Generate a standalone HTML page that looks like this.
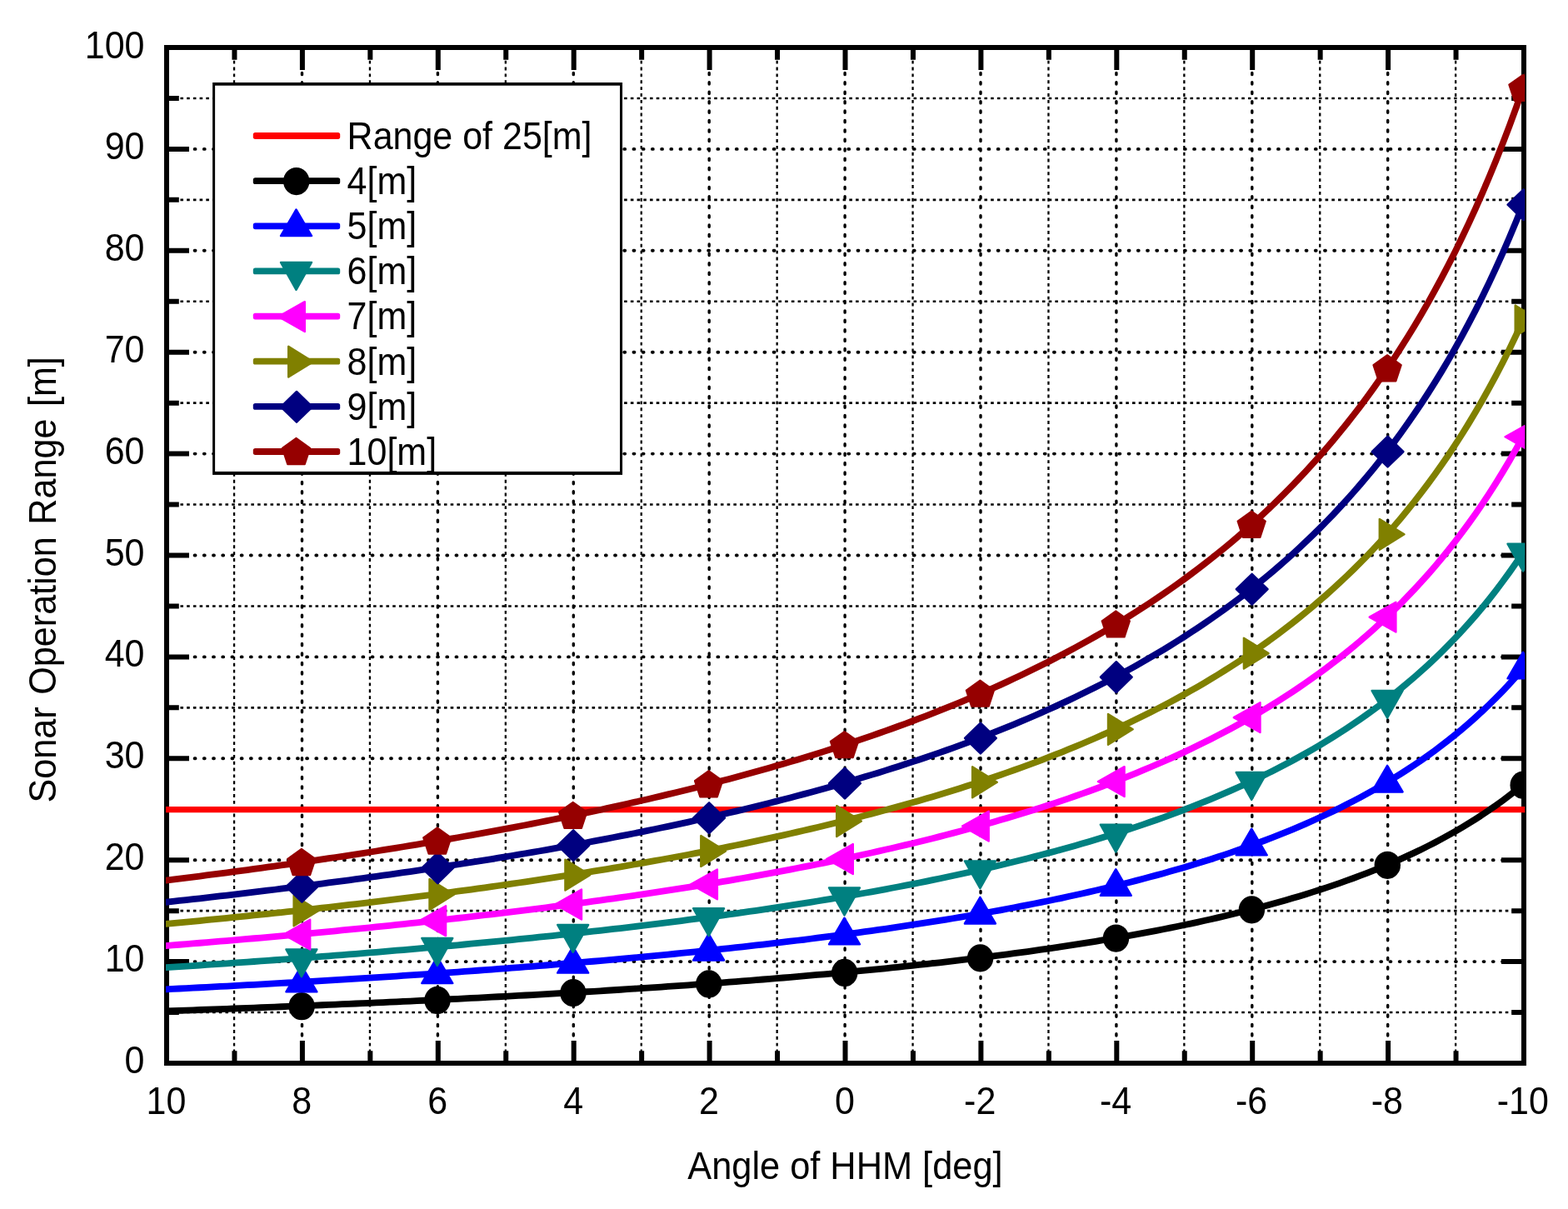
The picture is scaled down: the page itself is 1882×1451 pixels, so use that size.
<!DOCTYPE html>
<html lang="en"><head><meta charset="utf-8"><title>Sonar Operation Range vs Angle of HHM</title>
<style>html,body{margin:0;padding:0;background:#fff;}body{width:1882px;height:1451px;overflow:hidden;}svg{display:block;}text{font-family:"Liberation Sans",Arial,Helvetica,sans-serif;font-size:43px;fill:#000;}</style>
</head><body>
<svg width="1882" height="1451" viewBox="0 0 1882 1451">
<rect x="0" y="0" width="1882" height="1451" fill="#ffffff"/>
<defs><clipPath id="plotclip"><rect x="199" y="57" width="1631.2" height="1219"/></clipPath></defs>
<g id="grid" stroke="#000" fill="none">
<line x1="281.05" y1="57" x2="281.05" y2="1276" stroke-width="2.3" stroke-dasharray="3.9 3.96"/>
<line x1="362.5" y1="57" x2="362.5" y2="1276" stroke-width="3.4" stroke-linecap="round" stroke-dasharray="2.3 9.12" stroke-dashoffset="-7.5"/>
<line x1="443.95" y1="57" x2="443.95" y2="1276" stroke-width="2.3" stroke-dasharray="3.9 3.96"/>
<line x1="525.4" y1="57" x2="525.4" y2="1276" stroke-width="3.4" stroke-linecap="round" stroke-dasharray="2.3 9.12" stroke-dashoffset="-7.5"/>
<line x1="606.85" y1="57" x2="606.85" y2="1276" stroke-width="2.3" stroke-dasharray="3.9 3.96"/>
<line x1="688.3" y1="57" x2="688.3" y2="1276" stroke-width="3.4" stroke-linecap="round" stroke-dasharray="2.3 9.12" stroke-dashoffset="-7.5"/>
<line x1="769.75" y1="57" x2="769.75" y2="1276" stroke-width="2.3" stroke-dasharray="3.9 3.96"/>
<line x1="851.2" y1="57" x2="851.2" y2="1276" stroke-width="3.4" stroke-linecap="round" stroke-dasharray="2.3 9.12" stroke-dashoffset="-7.5"/>
<line x1="932.65" y1="57" x2="932.65" y2="1276" stroke-width="2.3" stroke-dasharray="3.9 3.96"/>
<line x1="1014.1" y1="57" x2="1014.1" y2="1276" stroke-width="3.4" stroke-linecap="round" stroke-dasharray="2.3 9.12" stroke-dashoffset="-7.5"/>
<line x1="1095.55" y1="57" x2="1095.55" y2="1276" stroke-width="2.3" stroke-dasharray="3.9 3.96"/>
<line x1="1177" y1="57" x2="1177" y2="1276" stroke-width="3.4" stroke-linecap="round" stroke-dasharray="2.3 9.12" stroke-dashoffset="-7.5"/>
<line x1="1258.45" y1="57" x2="1258.45" y2="1276" stroke-width="2.3" stroke-dasharray="3.9 3.96"/>
<line x1="1339.9" y1="57" x2="1339.9" y2="1276" stroke-width="3.4" stroke-linecap="round" stroke-dasharray="2.3 9.12" stroke-dashoffset="-7.5"/>
<line x1="1421.35" y1="57" x2="1421.35" y2="1276" stroke-width="2.3" stroke-dasharray="3.9 3.96"/>
<line x1="1502.8" y1="57" x2="1502.8" y2="1276" stroke-width="3.4" stroke-linecap="round" stroke-dasharray="2.3 9.12" stroke-dashoffset="-7.5"/>
<line x1="1584.25" y1="57" x2="1584.25" y2="1276" stroke-width="2.3" stroke-dasharray="3.9 3.96"/>
<line x1="1665.7" y1="57" x2="1665.7" y2="1276" stroke-width="3.4" stroke-linecap="round" stroke-dasharray="2.3 9.12" stroke-dashoffset="-7.5"/>
<line x1="1747.15" y1="57" x2="1747.15" y2="1276" stroke-width="2.3" stroke-dasharray="3.9 3.96"/>
<line x1="200" y1="1215.05" x2="1829" y2="1215.05" stroke-width="2.6" stroke-dasharray="3.6 4.12" stroke-dashoffset="-1"/>
<line x1="208" y1="1154.1" x2="1829" y2="1154.1" stroke-width="3.9" stroke-linecap="round" stroke-dasharray="0.9 10.31" stroke-dashoffset="-3.2"/>
<line x1="200" y1="1093.15" x2="1829" y2="1093.15" stroke-width="2.6" stroke-dasharray="3.6 4.12" stroke-dashoffset="-1"/>
<line x1="208" y1="1032.2" x2="1829" y2="1032.2" stroke-width="3.9" stroke-linecap="round" stroke-dasharray="0.9 10.31" stroke-dashoffset="-3.2"/>
<line x1="200" y1="971.25" x2="1829" y2="971.25" stroke-width="2.6" stroke-dasharray="3.6 4.12" stroke-dashoffset="-1"/>
<line x1="208" y1="910.3" x2="1829" y2="910.3" stroke-width="3.9" stroke-linecap="round" stroke-dasharray="0.9 10.31" stroke-dashoffset="-3.2"/>
<line x1="200" y1="849.35" x2="1829" y2="849.35" stroke-width="2.6" stroke-dasharray="3.6 4.12" stroke-dashoffset="-1"/>
<line x1="208" y1="788.4" x2="1829" y2="788.4" stroke-width="3.9" stroke-linecap="round" stroke-dasharray="0.9 10.31" stroke-dashoffset="-3.2"/>
<line x1="200" y1="727.45" x2="1829" y2="727.45" stroke-width="2.6" stroke-dasharray="3.6 4.12" stroke-dashoffset="-1"/>
<line x1="208" y1="666.5" x2="1829" y2="666.5" stroke-width="3.9" stroke-linecap="round" stroke-dasharray="0.9 10.31" stroke-dashoffset="-3.2"/>
<line x1="200" y1="605.55" x2="1829" y2="605.55" stroke-width="2.6" stroke-dasharray="3.6 4.12" stroke-dashoffset="-1"/>
<line x1="208" y1="544.6" x2="1829" y2="544.6" stroke-width="3.9" stroke-linecap="round" stroke-dasharray="0.9 10.31" stroke-dashoffset="-3.2"/>
<line x1="200" y1="483.65" x2="1829" y2="483.65" stroke-width="2.6" stroke-dasharray="3.6 4.12" stroke-dashoffset="-1"/>
<line x1="208" y1="422.7" x2="1829" y2="422.7" stroke-width="3.9" stroke-linecap="round" stroke-dasharray="0.9 10.31" stroke-dashoffset="-3.2"/>
<line x1="200" y1="361.75" x2="1829" y2="361.75" stroke-width="2.6" stroke-dasharray="3.6 4.12" stroke-dashoffset="-1"/>
<line x1="208" y1="300.8" x2="1829" y2="300.8" stroke-width="3.9" stroke-linecap="round" stroke-dasharray="0.9 10.31" stroke-dashoffset="-3.2"/>
<line x1="200" y1="239.85" x2="1829" y2="239.85" stroke-width="2.6" stroke-dasharray="3.6 4.12" stroke-dashoffset="-1"/>
<line x1="208" y1="178.9" x2="1829" y2="178.9" stroke-width="3.9" stroke-linecap="round" stroke-dasharray="0.9 10.31" stroke-dashoffset="-3.2"/>
<line x1="200" y1="117.95" x2="1829" y2="117.95" stroke-width="2.6" stroke-dasharray="3.6 4.12" stroke-dashoffset="-1"/>
</g>
<g id="axes" stroke="#000" fill="none">
<rect x="200" y="57" width="1629" height="1219" stroke-width="6"/>
<path d="M281.45 1276v-14.8 M281.45 57v14.8" stroke-width="6"/>
<path d="M362.9 1276v-27 M362.9 57v27" stroke-width="6"/>
<path d="M444.35 1276v-14.8 M444.35 57v14.8" stroke-width="6"/>
<path d="M525.8 1276v-27 M525.8 57v27" stroke-width="6"/>
<path d="M607.25 1276v-14.8 M607.25 57v14.8" stroke-width="6"/>
<path d="M688.7 1276v-27 M688.7 57v27" stroke-width="6"/>
<path d="M770.15 1276v-14.8 M770.15 57v14.8" stroke-width="6"/>
<path d="M851.6 1276v-27 M851.6 57v27" stroke-width="6"/>
<path d="M933.05 1276v-14.8 M933.05 57v14.8" stroke-width="6"/>
<path d="M1014.5 1276v-27 M1014.5 57v27" stroke-width="6"/>
<path d="M1095.95 1276v-14.8 M1095.95 57v14.8" stroke-width="6"/>
<path d="M1177.4 1276v-27 M1177.4 57v27" stroke-width="6"/>
<path d="M1258.85 1276v-14.8 M1258.85 57v14.8" stroke-width="6"/>
<path d="M1340.3 1276v-27 M1340.3 57v27" stroke-width="6"/>
<path d="M1421.75 1276v-14.8 M1421.75 57v14.8" stroke-width="6"/>
<path d="M1503.2 1276v-27 M1503.2 57v27" stroke-width="6"/>
<path d="M1584.65 1276v-14.8 M1584.65 57v14.8" stroke-width="6"/>
<path d="M1666.1 1276v-27 M1666.1 57v27" stroke-width="6"/>
<path d="M1747.55 1276v-14.8 M1747.55 57v14.8" stroke-width="6"/>
<path d="M200 1215.05h14.8 M1829 1215.05h-14.8" stroke-width="6"/>
<path d="M200 1154.1h27 M1829 1154.1h-27" stroke-width="6"/>
<path d="M200 1093.15h14.8 M1829 1093.15h-14.8" stroke-width="6"/>
<path d="M200 1032.2h27 M1829 1032.2h-27" stroke-width="6"/>
<path d="M200 971.25h14.8 M1829 971.25h-14.8" stroke-width="6"/>
<path d="M200 910.3h27 M1829 910.3h-27" stroke-width="6"/>
<path d="M200 849.35h14.8 M1829 849.35h-14.8" stroke-width="6"/>
<path d="M200 788.4h27 M1829 788.4h-27" stroke-width="6"/>
<path d="M200 727.45h14.8 M1829 727.45h-14.8" stroke-width="6"/>
<path d="M200 666.5h27 M1829 666.5h-27" stroke-width="6"/>
<path d="M200 605.55h14.8 M1829 605.55h-14.8" stroke-width="6"/>
<path d="M200 544.6h27 M1829 544.6h-27" stroke-width="6"/>
<path d="M200 483.65h14.8 M1829 483.65h-14.8" stroke-width="6"/>
<path d="M200 422.7h27 M1829 422.7h-27" stroke-width="6"/>
<path d="M200 361.75h14.8 M1829 361.75h-14.8" stroke-width="6"/>
<path d="M200 300.8h27 M1829 300.8h-27" stroke-width="6"/>
<path d="M200 239.85h14.8 M1829 239.85h-14.8" stroke-width="6"/>
<path d="M200 178.9h27 M1829 178.9h-27" stroke-width="6"/>
<path d="M200 117.95h14.8 M1829 117.95h-14.8" stroke-width="6"/>
</g>
<g id="data" clip-path="url(#plotclip)"><g transform="translate(-1 0.2)">
<line x1="198" y1="971.45" x2="1833" y2="971.45" stroke="#ff0000" stroke-width="7.4"/>
<polyline points="191.86,1213.55 200,1213.26 208.14,1212.97 216.29,1212.68 224.44,1212.39 232.58,1212.1 240.72,1211.8 248.87,1211.51 257.02,1211.21 265.16,1210.9 273.31,1210.6 281.45,1210.29 289.59,1209.98 297.74,1209.67 305.89,1209.35 314.03,1209.04 322.18,1208.72 330.32,1208.39 338.46,1208.07 346.61,1207.74 354.75,1207.41 362.9,1207.08 371.04,1206.74 379.19,1206.4 387.34,1206.06 395.48,1205.72 403.62,1205.37 411.77,1205.02 419.92,1204.67 428.06,1204.31 436.21,1203.95 444.35,1203.59 452.5,1203.22 460.64,1202.85 468.79,1202.48 476.93,1202.11 485.07,1201.73 493.22,1201.35 501.37,1200.96 509.51,1200.57 517.65,1200.18 525.8,1199.79 533.95,1199.39 542.09,1198.98 550.24,1198.58 558.38,1198.17 566.52,1197.75 574.67,1197.33 582.82,1196.91 590.96,1196.48 599.11,1196.05 607.25,1195.62 615.39,1195.18 623.54,1194.74 631.68,1194.29 639.83,1193.84 647.98,1193.38 656.12,1192.92 664.27,1192.46 672.41,1191.99 680.56,1191.51 688.7,1191.03 696.85,1190.55 704.99,1190.06 713.13,1189.57 721.28,1189.07 729.43,1188.56 737.57,1188.05 745.72,1187.54 753.86,1187.02 762,1186.49 770.15,1185.96 778.29,1185.42 786.44,1184.88 794.58,1184.33 802.73,1183.77 810.88,1183.21 819.02,1182.64 827.17,1182.07 835.31,1181.49 843.46,1180.9 851.6,1180.31 859.75,1179.71 867.89,1179.1 876.04,1178.48 884.18,1177.86 892.33,1177.23 900.47,1176.6 908.62,1175.95 916.76,1175.3 924.9,1174.64 933.05,1173.97 941.19,1173.3 949.34,1172.61 957.49,1171.92 965.63,1171.22 973.77,1170.51 981.92,1169.79 990.06,1169.06 998.21,1168.32 1006.36,1167.57 1014.5,1166.82 1022.65,1166.05 1030.79,1165.27 1038.93,1164.48 1047.08,1163.68 1055.22,1162.88 1063.37,1162.06 1071.51,1161.22 1079.66,1160.38 1087.81,1159.53 1095.95,1158.66 1104.1,1157.78 1112.24,1156.89 1120.38,1155.99 1128.53,1155.07 1136.67,1154.14 1144.82,1153.2 1152.96,1152.24 1161.11,1151.27 1169.26,1150.28 1177.4,1149.28 1185.55,1148.26 1193.69,1147.23 1201.83,1146.18 1209.98,1145.12 1218.12,1144.03 1226.27,1142.94 1234.41,1141.82 1242.56,1140.69 1250.71,1139.53 1258.85,1138.36 1267,1137.17 1275.14,1135.96 1283.28,1134.73 1291.43,1133.48 1299.58,1132.2 1307.72,1130.91 1315.87,1129.59 1324.01,1128.25 1332.16,1126.88 1340.3,1125.49 1348.45,1124.08 1356.59,1122.63 1364.73,1121.17 1372.88,1119.67 1381.03,1118.15 1389.17,1116.6 1397.32,1115.01 1405.46,1113.4 1413.61,1111.76 1421.75,1110.08 1429.89,1108.37 1438.04,1106.63 1446.18,1104.85 1454.33,1103.03 1462.47,1101.17 1470.62,1099.28 1478.76,1097.34 1486.91,1095.37 1495.06,1093.35 1503.2,1091.28 1511.35,1089.18 1519.49,1087.02 1527.63,1084.81 1535.78,1082.55 1543.92,1080.24 1552.07,1077.88 1560.22,1075.46 1568.36,1072.98 1576.5,1070.44 1584.65,1067.83 1592.8,1065.16 1600.94,1062.43 1609.08,1059.62 1617.23,1056.74 1625.38,1053.78 1633.52,1050.74 1641.67,1047.62 1649.81,1044.41 1657.95,1041.12 1666.1,1037.73 1674.25,1034.24 1682.39,1030.65 1690.53,1026.96 1698.68,1023.15 1706.83,1019.22 1714.97,1015.18 1723.12,1011 1731.26,1006.69 1739.4,1002.24 1747.55,997.65 1755.7,992.9 1763.84,987.98 1771.98,982.89 1780.13,977.62 1788.28,972.16 1796.42,966.5 1804.57,960.63 1812.71,954.53 1820.86,948.19 1829,941.6 1837.14,934.74" fill="none" stroke="#000000" stroke-width="7.8" stroke-linejoin="round"/>
<ellipse cx="363.1" cy="1207.48" rx="15.7" ry="16.6" fill="#000000"/>
<ellipse cx="526" cy="1200.19" rx="15.7" ry="16.6" fill="#000000"/>
<ellipse cx="688.9" cy="1191.43" rx="15.7" ry="16.6" fill="#000000"/>
<ellipse cx="851.8" cy="1180.71" rx="15.7" ry="16.6" fill="#000000"/>
<ellipse cx="1014.7" cy="1167.22" rx="15.7" ry="16.6" fill="#000000"/>
<ellipse cx="1177.6" cy="1149.68" rx="15.7" ry="16.6" fill="#000000"/>
<ellipse cx="1340.5" cy="1125.89" rx="15.7" ry="16.6" fill="#000000"/>
<ellipse cx="1503.4" cy="1091.68" rx="15.7" ry="16.6" fill="#000000"/>
<ellipse cx="1666.3" cy="1038.13" rx="15.7" ry="16.6" fill="#000000"/>
<ellipse cx="1829.2" cy="942" rx="15.7" ry="16.6" fill="#000000"/>
<polyline points="191.86,1187.52 200,1187.12 208.14,1186.71 216.29,1186.3 224.44,1185.89 232.58,1185.47 240.72,1185.06 248.87,1184.63 257.02,1184.21 265.16,1183.78 273.31,1183.35 281.45,1182.91 289.59,1182.47 297.74,1182.03 305.89,1181.58 314.03,1181.13 322.18,1180.68 330.32,1180.22 338.46,1179.76 346.61,1179.3 354.75,1178.83 362.9,1178.36 371.04,1177.88 379.19,1177.4 387.34,1176.92 395.48,1176.43 403.62,1175.94 411.77,1175.44 419.92,1174.94 428.06,1174.44 436.21,1173.93 444.35,1173.42 452.5,1172.9 460.64,1172.38 468.79,1171.85 476.93,1171.32 485.07,1170.78 493.22,1170.24 501.37,1169.7 509.51,1169.15 517.65,1168.59 525.8,1168.03 533.95,1167.46 542.09,1166.89 550.24,1166.32 558.38,1165.73 566.52,1165.15 574.67,1164.56 582.82,1163.96 590.96,1163.35 599.11,1162.74 607.25,1162.13 615.39,1161.51 623.54,1160.88 631.68,1160.25 639.83,1159.61 647.98,1158.96 656.12,1158.31 664.27,1157.65 672.41,1156.98 680.56,1156.31 688.7,1155.63 696.85,1154.95 704.99,1154.25 713.13,1153.55 721.28,1152.85 729.43,1152.13 737.57,1151.41 745.72,1150.68 753.86,1149.94 762,1149.2 770.15,1148.44 778.29,1147.68 786.44,1146.91 794.58,1146.13 802.73,1145.35 810.88,1144.55 819.02,1143.75 827.17,1142.93 835.31,1142.11 843.46,1141.28 851.6,1140.44 859.75,1139.59 867.89,1138.72 876.04,1137.85 884.18,1136.97 892.33,1136.08 900.47,1135.18 908.62,1134.27 916.76,1133.34 924.9,1132.41 933.05,1131.46 941.19,1130.5 949.34,1129.53 957.49,1128.55 965.63,1127.56 973.77,1126.55 981.92,1125.53 990.06,1124.5 998.21,1123.45 1006.36,1122.39 1014.5,1121.32 1022.65,1120.23 1030.79,1119.13 1038.93,1118.02 1047.08,1116.89 1055.22,1115.74 1063.37,1114.58 1071.51,1113.4 1079.66,1112.21 1087.81,1111 1095.95,1109.77 1104.1,1108.52 1112.24,1107.26 1120.38,1105.98 1128.53,1104.68 1136.67,1103.36 1144.82,1102.03 1152.96,1100.67 1161.11,1099.29 1169.26,1097.9 1177.4,1096.48 1185.55,1095.04 1193.69,1093.57 1201.83,1092.09 1209.98,1090.58 1218.12,1089.05 1226.27,1087.49 1234.41,1085.91 1242.56,1084.3 1250.71,1082.67 1258.85,1081.01 1267,1079.32 1275.14,1077.61 1283.28,1075.86 1291.43,1074.09 1299.58,1072.29 1307.72,1070.45 1315.87,1068.58 1324.01,1066.68 1332.16,1064.75 1340.3,1062.78 1348.45,1060.77 1356.59,1058.73 1364.73,1056.65 1372.88,1054.54 1381.03,1052.38 1389.17,1050.18 1397.32,1047.94 1405.46,1045.65 1413.61,1043.32 1421.75,1040.95 1429.89,1038.53 1438.04,1036.05 1446.18,1033.53 1454.33,1030.96 1462.47,1028.33 1470.62,1025.65 1478.76,1022.9 1486.91,1020.1 1495.06,1017.24 1503.2,1014.32 1511.35,1011.33 1519.49,1008.28 1527.63,1005.15 1535.78,1001.95 1543.92,998.68 1552.07,995.33 1560.22,991.9 1568.36,988.38 1576.5,984.79 1584.65,981.1 1592.8,977.31 1600.94,973.44 1609.08,969.46 1617.23,965.38 1625.38,961.19 1633.52,956.88 1641.67,952.46 1649.81,947.92 1657.95,943.25 1666.1,938.45 1674.25,933.51 1682.39,928.42 1690.53,923.19 1698.68,917.79 1706.83,912.23 1714.97,906.5 1723.12,900.59 1731.26,894.48 1739.4,888.18 1747.55,881.67 1755.7,874.94 1763.84,867.97 1771.98,860.76 1780.13,853.3 1788.28,845.57 1796.42,837.55 1804.57,829.23 1812.71,820.59 1820.86,811.61 1829,802.27 1837.14,792.55" fill="none" stroke="#0000ff" stroke-width="7.8" stroke-linejoin="round"/>
<polygon points="362.9,1158.56 381.4,1190.16 344.4,1190.16" fill="#0000ff" stroke="#0000ff" stroke-width="2.4" stroke-linejoin="round"/>
<polygon points="525.8,1148.23 544.3,1179.83 507.3,1179.83" fill="#0000ff" stroke="#0000ff" stroke-width="2.4" stroke-linejoin="round"/>
<polygon points="688.7,1135.83 707.2,1167.43 670.2,1167.43" fill="#0000ff" stroke="#0000ff" stroke-width="2.4" stroke-linejoin="round"/>
<polygon points="851.6,1120.64 870.1,1152.24 833.1,1152.24" fill="#0000ff" stroke="#0000ff" stroke-width="2.4" stroke-linejoin="round"/>
<polygon points="1014.5,1101.52 1033,1133.12 996,1133.12" fill="#0000ff" stroke="#0000ff" stroke-width="2.4" stroke-linejoin="round"/>
<polygon points="1177.4,1076.68 1195.9,1108.28 1158.9,1108.28" fill="#0000ff" stroke="#0000ff" stroke-width="2.4" stroke-linejoin="round"/>
<polygon points="1340.3,1042.98 1358.8,1074.58 1321.8,1074.58" fill="#0000ff" stroke="#0000ff" stroke-width="2.4" stroke-linejoin="round"/>
<polygon points="1503.2,994.52 1521.7,1026.12 1484.7,1026.12" fill="#0000ff" stroke="#0000ff" stroke-width="2.4" stroke-linejoin="round"/>
<polygon points="1666.1,918.65 1684.6,950.25 1647.6,950.25" fill="#0000ff" stroke="#0000ff" stroke-width="2.4" stroke-linejoin="round"/>
<polygon points="1829,782.47 1847.5,814.07 1810.5,814.07" fill="#0000ff" stroke="#0000ff" stroke-width="2.4" stroke-linejoin="round"/>
<polyline points="191.86,1161.5 200,1160.98 208.14,1160.45 216.29,1159.92 224.44,1159.39 232.58,1158.85 240.72,1158.31 248.87,1157.76 257.02,1157.21 265.16,1156.65 273.31,1156.1 281.45,1155.53 289.59,1154.96 297.74,1154.39 305.89,1153.81 314.03,1153.23 322.18,1152.65 330.32,1152.05 338.46,1151.46 346.61,1150.86 354.75,1150.25 362.9,1149.64 371.04,1149.03 379.19,1148.4 387.34,1147.78 395.48,1147.15 403.62,1146.51 411.77,1145.87 419.92,1145.22 428.06,1144.57 436.21,1143.91 444.35,1143.25 452.5,1142.58 460.64,1141.9 468.79,1141.22 476.93,1140.53 485.07,1139.84 493.22,1139.14 501.37,1138.43 509.51,1137.72 517.65,1137 525.8,1136.27 533.95,1135.54 542.09,1134.8 550.24,1134.06 558.38,1133.3 566.52,1132.54 574.67,1131.78 582.82,1131 590.96,1130.22 599.11,1129.43 607.25,1128.64 615.39,1127.83 623.54,1127.02 631.68,1126.2 639.83,1125.37 647.98,1124.54 656.12,1123.69 664.27,1122.84 672.41,1121.98 680.56,1121.11 688.7,1120.23 696.85,1119.34 704.99,1118.45 713.13,1117.54 721.28,1116.62 729.43,1115.7 737.57,1114.76 745.72,1113.82 753.86,1112.87 762,1111.9 770.15,1110.93 778.29,1109.94 786.44,1108.94 794.58,1107.94 802.73,1106.92 810.88,1105.89 819.02,1104.85 827.17,1103.79 835.31,1102.73 843.46,1101.65 851.6,1100.56 859.75,1099.46 867.89,1098.35 876.04,1097.22 884.18,1096.08 892.33,1094.93 900.47,1093.76 908.62,1092.58 916.76,1091.38 924.9,1090.17 933.05,1088.95 941.19,1087.71 949.34,1086.45 957.49,1085.18 965.63,1083.9 973.77,1082.59 981.92,1081.28 990.06,1079.94 998.21,1078.59 1006.36,1077.22 1014.5,1075.83 1022.65,1074.42 1030.79,1073 1038.93,1071.55 1047.08,1070.09 1055.22,1068.6 1063.37,1067.1 1071.51,1065.58 1079.66,1064.03 1087.81,1062.47 1095.95,1060.88 1104.1,1059.27 1112.24,1057.63 1120.38,1055.98 1128.53,1054.3 1136.67,1052.59 1144.82,1050.86 1152.96,1049.1 1161.11,1047.32 1169.26,1045.51 1177.4,1043.68 1185.55,1041.81 1193.69,1039.92 1201.83,1038 1209.98,1036.05 1218.12,1034.06 1226.27,1032.05 1234.41,1030 1242.56,1027.92 1250.71,1025.81 1258.85,1023.66 1267,1021.48 1275.14,1019.26 1283.28,1017 1291.43,1014.71 1299.58,1012.37 1307.72,1010 1315.87,1007.58 1324.01,1005.12 1332.16,1002.62 1340.3,1000.07 1348.45,997.47 1356.59,994.83 1364.73,992.14 1372.88,989.4 1381.03,986.61 1389.17,983.76 1397.32,980.86 1405.46,977.9 1413.61,974.89 1421.75,971.82 1429.89,968.68 1438.04,965.48 1446.18,962.22 1454.33,958.88 1462.47,955.48 1470.62,952.01 1478.76,948.46 1486.91,944.84 1495.06,941.14 1503.2,937.36 1511.35,933.49 1519.49,929.53 1527.63,925.49 1535.78,921.35 1543.92,917.11 1552.07,912.78 1560.22,908.34 1568.36,903.79 1576.5,899.13 1584.65,894.36 1592.8,889.47 1600.94,884.45 1609.08,879.3 1617.23,874.02 1625.38,868.59 1633.52,863.03 1641.67,857.31 1649.81,851.43 1657.95,845.38 1666.1,839.17 1674.25,832.78 1682.39,826.19 1690.53,819.42 1698.68,812.44 1706.83,805.24 1714.97,797.82 1723.12,790.17 1731.26,782.27 1739.4,774.12 1747.55,765.69 1755.7,756.98 1763.84,747.96 1771.98,738.64 1780.13,728.98 1788.28,718.97 1796.42,708.59 1804.57,697.82 1812.71,686.64 1820.86,675.02 1829,662.94 1837.14,650.36" fill="none" stroke="#008080" stroke-width="7.8" stroke-linejoin="round"/>
<polygon points="362.9,1172.04 381.4,1139.14 344.4,1139.14" fill="#008080" stroke="#008080" stroke-width="2.4" stroke-linejoin="round"/>
<polygon points="525.8,1158.67 544.3,1125.77 507.3,1125.77" fill="#008080" stroke="#008080" stroke-width="2.4" stroke-linejoin="round"/>
<polygon points="688.7,1142.63 707.2,1109.73 670.2,1109.73" fill="#008080" stroke="#008080" stroke-width="2.4" stroke-linejoin="round"/>
<polygon points="851.6,1122.96 870.1,1090.06 833.1,1090.06" fill="#008080" stroke="#008080" stroke-width="2.4" stroke-linejoin="round"/>
<polygon points="1014.5,1098.23 1033,1065.33 996,1065.33" fill="#008080" stroke="#008080" stroke-width="2.4" stroke-linejoin="round"/>
<polygon points="1177.4,1066.08 1195.9,1033.18 1158.9,1033.18" fill="#008080" stroke="#008080" stroke-width="2.4" stroke-linejoin="round"/>
<polygon points="1340.3,1022.47 1358.8,989.57 1321.8,989.57" fill="#008080" stroke="#008080" stroke-width="2.4" stroke-linejoin="round"/>
<polygon points="1503.2,959.76 1521.7,926.86 1484.7,926.86" fill="#008080" stroke="#008080" stroke-width="2.4" stroke-linejoin="round"/>
<polygon points="1666.1,861.57 1684.6,828.67 1647.6,828.67" fill="#008080" stroke="#008080" stroke-width="2.4" stroke-linejoin="round"/>
<polygon points="1829,685.34 1847.5,652.44 1810.5,652.44" fill="#008080" stroke="#008080" stroke-width="2.4" stroke-linejoin="round"/>
<polyline points="191.86,1135.48 200,1134.84 208.14,1134.19 216.29,1133.54 224.44,1132.88 232.58,1132.22 240.72,1131.56 248.87,1130.89 257.02,1130.21 265.16,1129.53 273.31,1128.84 281.45,1128.15 289.59,1127.46 297.74,1126.75 305.89,1126.04 314.03,1125.33 322.18,1124.61 330.32,1123.89 338.46,1123.15 346.61,1122.42 354.75,1121.67 362.9,1120.92 371.04,1120.17 379.19,1119.41 387.34,1118.64 395.48,1117.86 403.62,1117.08 411.77,1116.29 419.92,1115.5 428.06,1114.7 436.21,1113.89 444.35,1113.07 452.5,1112.25 460.64,1111.42 468.79,1110.59 476.93,1109.74 485.07,1108.89 493.22,1108.03 501.37,1107.17 509.51,1106.29 517.65,1105.41 525.8,1104.52 533.95,1103.62 542.09,1102.71 550.24,1101.8 558.38,1100.87 566.52,1099.94 574.67,1099 582.82,1098.05 590.96,1097.09 599.11,1096.12 607.25,1095.14 615.39,1094.16 623.54,1093.16 631.68,1092.16 639.83,1091.14 647.98,1090.11 656.12,1089.08 664.27,1088.03 672.41,1086.97 680.56,1085.91 688.7,1084.83 696.85,1083.74 704.99,1082.64 713.13,1081.53 721.28,1080.4 729.43,1079.27 737.57,1078.12 745.72,1076.96 753.86,1075.79 762,1074.61 770.15,1073.41 778.29,1072.2 786.44,1070.98 794.58,1069.74 802.73,1068.49 810.88,1067.23 819.02,1065.95 827.17,1064.66 835.31,1063.35 843.46,1062.03 851.6,1060.69 859.75,1059.34 867.89,1057.97 876.04,1056.59 884.18,1055.19 892.33,1053.78 900.47,1052.34 908.62,1050.89 916.76,1049.43 924.9,1047.94 933.05,1046.44 941.19,1044.92 949.34,1043.38 957.49,1041.82 965.63,1040.24 973.77,1038.64 981.92,1037.02 990.06,1035.38 998.21,1033.72 1006.36,1032.04 1014.5,1030.33 1022.65,1028.61 1030.79,1026.86 1038.93,1025.09 1047.08,1023.29 1055.22,1021.47 1063.37,1019.62 1071.51,1017.75 1079.66,1015.86 1087.81,1013.94 1095.95,1011.99 1104.1,1010.01 1112.24,1008 1120.38,1005.97 1128.53,1003.91 1136.67,1001.81 1144.82,999.69 1152.96,997.54 1161.11,995.35 1169.26,993.13 1177.4,990.88 1185.55,988.59 1193.69,986.27 1201.83,983.91 1209.98,981.51 1218.12,979.08 1226.27,976.61 1234.41,974.09 1242.56,971.54 1250.71,968.95 1258.85,966.31 1267,963.63 1275.14,960.91 1283.28,958.14 1291.43,955.32 1299.58,952.45 1307.72,949.54 1315.87,946.57 1324.01,943.55 1332.16,940.48 1340.3,937.35 1348.45,934.17 1356.59,930.93 1364.73,927.63 1372.88,924.26 1381.03,920.83 1389.17,917.34 1397.32,913.78 1405.46,910.15 1413.61,906.45 1421.75,902.68 1429.89,898.83 1438.04,894.91 1446.18,890.9 1454.33,886.81 1462.47,882.64 1470.62,878.38 1478.76,874.02 1486.91,869.58 1495.06,865.03 1503.2,860.39 1511.35,855.64 1519.49,850.79 1527.63,845.83 1535.78,840.75 1543.92,835.55 1552.07,830.23 1560.22,824.78 1568.36,819.2 1576.5,813.48 1584.65,807.62 1592.8,801.62 1600.94,795.46 1609.08,789.14 1617.23,782.66 1625.38,776 1633.52,769.17 1641.67,762.15 1649.81,754.93 1657.95,747.52 1666.1,739.89 1674.25,732.04 1682.39,723.97 1690.53,715.65 1698.68,707.08 1706.83,698.25 1714.97,689.15 1723.12,679.76 1731.26,670.06 1739.4,660.05 1747.55,649.71 1755.7,639.01 1763.84,627.96 1771.98,616.51 1780.13,604.65 1788.28,592.37 1796.42,579.63 1804.57,566.42 1812.71,552.69 1820.86,538.43 1829,523.61 1837.14,508.17" fill="none" stroke="#ff00ff" stroke-width="7.8" stroke-linejoin="round"/>
<polygon points="341.5,1121.42 373.2,1103.52 373.2,1139.32" fill="#ff00ff" stroke="#ff00ff" stroke-width="2.4" stroke-linejoin="round"/>
<polygon points="504.4,1105.02 536.1,1087.12 536.1,1122.92" fill="#ff00ff" stroke="#ff00ff" stroke-width="2.4" stroke-linejoin="round"/>
<polygon points="667.3,1085.33 699,1067.43 699,1103.23" fill="#ff00ff" stroke="#ff00ff" stroke-width="2.4" stroke-linejoin="round"/>
<polygon points="830.2,1061.19 861.9,1043.29 861.9,1079.09" fill="#ff00ff" stroke="#ff00ff" stroke-width="2.4" stroke-linejoin="round"/>
<polygon points="993.1,1030.83 1024.8,1012.93 1024.8,1048.73" fill="#ff00ff" stroke="#ff00ff" stroke-width="2.4" stroke-linejoin="round"/>
<polygon points="1156,991.38 1187.7,973.48 1187.7,1009.28" fill="#ff00ff" stroke="#ff00ff" stroke-width="2.4" stroke-linejoin="round"/>
<polygon points="1318.9,937.85 1350.6,919.95 1350.6,955.75" fill="#ff00ff" stroke="#ff00ff" stroke-width="2.4" stroke-linejoin="round"/>
<polygon points="1481.8,860.89 1513.5,842.99 1513.5,878.79" fill="#ff00ff" stroke="#ff00ff" stroke-width="2.4" stroke-linejoin="round"/>
<polygon points="1644.7,740.39 1676.4,722.49 1676.4,758.29" fill="#ff00ff" stroke="#ff00ff" stroke-width="2.4" stroke-linejoin="round"/>
<polygon points="1807.6,524.11 1839.3,506.21 1839.3,542.01" fill="#ff00ff" stroke="#ff00ff" stroke-width="2.4" stroke-linejoin="round"/>
<polyline points="191.86,1109.45 200,1108.69 208.14,1107.93 216.29,1107.16 224.44,1106.38 232.58,1105.6 240.72,1104.81 248.87,1104.01 257.02,1103.21 265.16,1102.41 273.31,1101.59 281.45,1100.77 289.59,1099.95 297.74,1099.11 305.89,1098.27 314.03,1097.43 322.18,1096.58 330.32,1095.72 338.46,1094.85 346.61,1093.98 354.75,1093.09 362.9,1092.21 371.04,1091.31 379.19,1090.41 387.34,1089.5 395.48,1088.58 403.62,1087.65 411.77,1086.72 419.92,1085.78 428.06,1084.83 436.21,1083.87 444.35,1082.9 452.5,1081.93 460.64,1080.95 468.79,1079.95 476.93,1078.95 485.07,1077.94 493.22,1076.93 501.37,1075.9 509.51,1074.86 517.65,1073.82 525.8,1072.76 533.95,1071.7 542.09,1070.62 550.24,1069.54 558.38,1068.44 566.52,1067.34 574.67,1066.22 582.82,1065.1 590.96,1063.96 599.11,1062.81 607.25,1061.65 615.39,1060.48 623.54,1059.3 631.68,1058.11 639.83,1056.91 647.98,1055.69 656.12,1054.46 664.27,1053.22 672.41,1051.97 680.56,1050.7 688.7,1049.43 696.85,1048.13 704.99,1046.83 713.13,1045.51 721.28,1044.18 729.43,1042.83 737.57,1041.48 745.72,1040.1 753.86,1038.71 762,1037.31 770.15,1035.89 778.29,1034.46 786.44,1033.01 794.58,1031.54 802.73,1030.06 810.88,1028.56 819.02,1027.05 827.17,1025.52 835.31,1023.97 843.46,1022.41 851.6,1020.82 859.75,1019.22 867.89,1017.6 876.04,1015.96 884.18,1014.3 892.33,1012.62 900.47,1010.92 908.62,1009.21 916.76,1007.47 924.9,1005.71 933.05,1003.93 941.19,1002.12 949.34,1000.3 957.49,998.45 965.63,996.58 973.77,994.68 981.92,992.76 990.06,990.82 998.21,988.85 1006.36,986.86 1014.5,984.84 1022.65,982.79 1030.79,980.72 1038.93,978.62 1047.08,976.49 1055.22,974.33 1063.37,972.15 1071.51,969.93 1079.66,967.68 1087.81,965.41 1095.95,963.09 1104.1,960.75 1112.24,958.38 1120.38,955.97 1128.53,953.52 1136.67,951.04 1144.82,948.52 1152.96,945.97 1161.11,943.38 1169.26,940.75 1177.4,938.08 1185.55,935.36 1193.69,932.61 1201.83,929.82 1209.98,926.98 1218.12,924.09 1226.27,921.16 1234.41,918.19 1242.56,915.16 1250.71,912.09 1258.85,908.96 1267,905.79 1275.14,902.56 1283.28,899.27 1291.43,895.94 1299.58,892.54 1307.72,889.08 1315.87,885.57 1324.01,881.99 1332.16,878.35 1340.3,874.64 1348.45,870.87 1356.59,867.03 1364.73,863.11 1372.88,859.13 1381.03,855.06 1389.17,850.92 1397.32,846.71 1405.46,842.41 1413.61,838.02 1421.75,833.55 1429.89,828.99 1438.04,824.34 1446.18,819.59 1454.33,814.74 1462.47,809.79 1470.62,804.74 1478.76,799.58 1486.91,794.31 1495.06,788.93 1503.2,783.43 1511.35,777.8 1519.49,772.05 1527.63,766.16 1535.78,760.14 1543.92,753.98 1552.07,747.68 1560.22,741.22 1568.36,734.61 1576.5,727.83 1584.65,720.89 1592.8,713.77 1600.94,706.47 1609.08,698.98 1617.23,691.3 1625.38,683.41 1633.52,675.31 1641.67,666.99 1649.81,658.44 1657.95,649.65 1666.1,640.61 1674.25,631.31 1682.39,621.74 1690.53,611.88 1698.68,601.73 1706.83,591.26 1714.97,580.47 1723.12,569.34 1731.26,557.85 1739.4,545.99 1747.55,533.73 1755.7,521.05 1763.84,507.95 1771.98,494.38 1780.13,480.33 1788.28,465.77 1796.42,450.68 1804.57,435.01 1812.71,418.75 1820.86,401.85 1829,384.27 1837.14,365.98" fill="none" stroke="#808000" stroke-width="7.8" stroke-linejoin="round"/>
<polygon points="383.3,1092.71 353.6,1074.31 353.6,1111.11" fill="#808000" stroke="#808000" stroke-width="2.4" stroke-linejoin="round"/>
<polygon points="546.2,1073.26 516.5,1054.86 516.5,1091.66" fill="#808000" stroke="#808000" stroke-width="2.4" stroke-linejoin="round"/>
<polygon points="709.1,1049.93 679.4,1031.53 679.4,1068.33" fill="#808000" stroke="#808000" stroke-width="2.4" stroke-linejoin="round"/>
<polygon points="872,1021.32 842.3,1002.92 842.3,1039.72" fill="#808000" stroke="#808000" stroke-width="2.4" stroke-linejoin="round"/>
<polygon points="1034.9,985.34 1005.2,966.94 1005.2,1003.74" fill="#808000" stroke="#808000" stroke-width="2.4" stroke-linejoin="round"/>
<polygon points="1197.8,938.58 1168.1,920.18 1168.1,956.98" fill="#808000" stroke="#808000" stroke-width="2.4" stroke-linejoin="round"/>
<polygon points="1360.7,875.14 1331,856.74 1331,893.54" fill="#808000" stroke="#808000" stroke-width="2.4" stroke-linejoin="round"/>
<polygon points="1523.6,783.93 1493.9,765.53 1493.9,802.33" fill="#808000" stroke="#808000" stroke-width="2.4" stroke-linejoin="round"/>
<polygon points="1686.5,641.11 1656.8,622.71 1656.8,659.51" fill="#808000" stroke="#808000" stroke-width="2.4" stroke-linejoin="round"/>
<polygon points="1849.4,384.77 1819.7,366.37 1819.7,403.17" fill="#808000" stroke="#808000" stroke-width="2.4" stroke-linejoin="round"/>
<polyline points="191.86,1083.43 200,1082.55 208.14,1081.67 216.29,1080.78 224.44,1079.88 232.58,1078.97 240.72,1078.06 248.87,1077.14 257.02,1076.22 265.16,1075.28 273.31,1074.34 281.45,1073.39 289.59,1072.44 297.74,1071.48 305.89,1070.5 314.03,1069.53 322.18,1068.54 330.32,1067.55 338.46,1066.54 346.61,1065.53 354.75,1064.51 362.9,1063.49 371.04,1062.45 379.19,1061.41 387.34,1060.36 395.48,1059.29 403.62,1058.22 411.77,1057.14 419.92,1056.06 428.06,1054.96 436.21,1053.85 444.35,1052.73 452.5,1051.61 460.64,1050.47 468.79,1049.32 476.93,1048.17 485.07,1047 493.22,1045.82 501.37,1044.63 509.51,1043.44 517.65,1042.23 525.8,1041.01 533.95,1039.77 542.09,1038.53 550.24,1037.28 558.38,1036.01 566.52,1034.73 574.67,1033.44 582.82,1032.14 590.96,1030.83 599.11,1029.5 607.25,1028.16 615.39,1026.81 623.54,1025.44 631.68,1024.06 639.83,1022.67 647.98,1021.27 656.12,1019.85 664.27,1018.41 672.41,1016.96 680.56,1015.5 688.7,1014.02 696.85,1012.53 704.99,1011.02 713.13,1009.5 721.28,1007.96 729.43,1006.4 737.57,1004.83 745.72,1003.24 753.86,1001.64 762,1000.01 770.15,998.37 778.29,996.72 786.44,995.04 794.58,993.35 802.73,991.63 810.88,989.9 819.02,988.15 827.17,986.38 835.31,984.59 843.46,982.78 851.6,980.95 859.75,979.1 867.89,977.22 876.04,975.33 884.18,973.41 892.33,971.47 900.47,969.51 908.62,967.52 916.76,965.51 924.9,963.47 933.05,961.41 941.19,959.33 949.34,957.22 957.49,955.08 965.63,952.92 973.77,950.73 981.92,948.51 990.06,946.26 998.21,943.99 1006.36,941.68 1014.5,939.35 1022.65,936.98 1030.79,934.58 1038.93,932.16 1047.08,929.69 1055.22,927.2 1063.37,924.67 1071.51,922.11 1079.66,919.51 1087.81,916.87 1095.95,914.2 1104.1,911.49 1112.24,908.75 1120.38,905.96 1128.53,903.13 1136.67,900.26 1144.82,897.35 1152.96,894.4 1161.11,891.4 1169.26,888.36 1177.4,885.27 1185.55,882.14 1193.69,878.96 1201.83,875.72 1209.98,872.44 1218.12,869.11 1226.27,865.72 1234.41,862.28 1242.56,858.78 1250.71,855.23 1258.85,851.61 1267,847.94 1275.14,844.21 1283.28,840.41 1291.43,836.55 1299.58,832.62 1307.72,828.63 1315.87,824.56 1324.01,820.43 1332.16,816.22 1340.3,811.93 1348.45,807.57 1356.59,803.12 1364.73,798.6 1372.88,793.99 1381.03,789.29 1389.17,784.51 1397.32,779.63 1405.46,774.66 1413.61,769.59 1421.75,764.42 1429.89,759.14 1438.04,753.76 1446.18,748.27 1454.33,742.67 1462.47,736.95 1470.62,731.11 1478.76,725.14 1486.91,719.05 1495.06,712.83 1503.2,706.46 1511.35,699.96 1519.49,693.3 1527.63,686.5 1535.78,679.54 1543.92,672.42 1552.07,665.13 1560.22,657.66 1568.36,650.01 1576.5,642.18 1584.65,634.15 1592.8,625.92 1600.94,617.48 1609.08,608.82 1617.23,599.94 1625.38,590.82 1633.52,581.45 1641.67,571.83 1649.81,561.95 1657.95,551.78 1666.1,541.33 1674.25,530.58 1682.39,519.51 1690.53,508.11 1698.68,496.37 1706.83,484.27 1714.97,471.8 1723.12,458.92 1731.26,445.64 1739.4,431.92 1747.55,417.75 1755.7,403.09 1763.84,387.94 1771.98,372.25 1780.13,356.01 1788.28,339.17 1796.42,321.72 1804.57,303.61 1812.71,284.8 1820.86,265.26 1829,244.94 1837.14,223.79" fill="none" stroke="#000080" stroke-width="7.8" stroke-linejoin="round"/>
<polygon points="363.4,1045.59 382.3,1063.99 363.4,1082.39 344.5,1063.99" fill="#000080" stroke="#000080" stroke-width="2.4" stroke-linejoin="round"/>
<polygon points="526.3,1023.11 545.2,1041.51 526.3,1059.91 507.4,1041.51" fill="#000080" stroke="#000080" stroke-width="2.4" stroke-linejoin="round"/>
<polygon points="689.2,996.12 708.1,1014.52 689.2,1032.92 670.3,1014.52" fill="#000080" stroke="#000080" stroke-width="2.4" stroke-linejoin="round"/>
<polygon points="852.1,963.05 871,981.45 852.1,999.85 833.2,981.45" fill="#000080" stroke="#000080" stroke-width="2.4" stroke-linejoin="round"/>
<polygon points="1015,921.45 1033.9,939.85 1015,958.25 996.1,939.85" fill="#000080" stroke="#000080" stroke-width="2.4" stroke-linejoin="round"/>
<polygon points="1177.9,867.37 1196.8,885.77 1177.9,904.17 1159,885.77" fill="#000080" stroke="#000080" stroke-width="2.4" stroke-linejoin="round"/>
<polygon points="1340.8,794.03 1359.7,812.43 1340.8,830.83 1321.9,812.43" fill="#000080" stroke="#000080" stroke-width="2.4" stroke-linejoin="round"/>
<polygon points="1503.7,688.56 1522.6,706.96 1503.7,725.36 1484.8,706.96" fill="#000080" stroke="#000080" stroke-width="2.4" stroke-linejoin="round"/>
<polygon points="1666.6,523.43 1685.5,541.83 1666.6,560.23 1647.7,541.83" fill="#000080" stroke="#000080" stroke-width="2.4" stroke-linejoin="round"/>
<polygon points="1829.5,227.04 1848.4,245.44 1829.5,263.84 1810.6,245.44" fill="#000080" stroke="#000080" stroke-width="2.4" stroke-linejoin="round"/>
<polyline points="191.86,1057.41 200,1056.41 208.14,1055.41 216.29,1054.39 224.44,1053.38 232.58,1052.35 240.72,1051.31 248.87,1050.27 257.02,1049.22 265.16,1048.16 273.31,1047.09 281.45,1046.01 289.59,1044.93 297.74,1043.84 305.89,1042.74 314.03,1041.62 322.18,1040.51 330.32,1039.38 338.46,1038.24 346.61,1037.09 354.75,1035.94 362.9,1034.77 371.04,1033.59 379.19,1032.41 387.34,1031.21 395.48,1030.01 403.62,1028.79 411.77,1027.57 419.92,1026.33 428.06,1025.09 436.21,1023.83 444.35,1022.56 452.5,1021.28 460.64,1019.99 468.79,1018.69 476.93,1017.38 485.07,1016.05 493.22,1014.72 501.37,1013.37 509.51,1012.01 517.65,1010.63 525.8,1009.25 533.95,1007.85 542.09,1006.44 550.24,1005.02 558.38,1003.58 566.52,1002.13 574.67,1000.67 582.82,999.19 590.96,997.7 599.11,996.19 607.25,994.67 615.39,993.13 623.54,991.58 631.68,990.02 639.83,988.44 647.98,986.84 656.12,985.23 664.27,983.6 672.41,981.96 680.56,980.3 688.7,978.62 696.85,976.93 704.99,975.21 713.13,973.48 721.28,971.74 729.43,969.97 737.57,968.19 745.72,966.38 753.86,964.56 762,962.72 770.15,960.86 778.29,958.98 786.44,957.07 794.58,955.15 802.73,953.21 810.88,951.24 819.02,949.25 827.17,947.24 835.31,945.21 843.46,943.16 851.6,941.08 859.75,938.98 867.89,936.85 876.04,934.7 884.18,932.52 892.33,930.32 900.47,928.09 908.62,925.83 916.76,923.55 924.9,921.24 933.05,918.9 941.19,916.54 949.34,914.14 957.49,911.71 965.63,909.26 973.77,906.77 981.92,904.25 990.06,901.7 998.21,899.12 1006.36,896.5 1014.5,893.85 1022.65,891.17 1030.79,888.45 1038.93,885.69 1047.08,882.9 1055.22,880.06 1063.37,877.19 1071.51,874.28 1079.66,871.33 1087.81,868.34 1095.95,865.31 1104.1,862.24 1112.24,859.12 1120.38,855.95 1128.53,852.75 1136.67,849.49 1144.82,846.19 1152.96,842.83 1161.11,839.43 1169.26,835.98 1177.4,832.47 1185.55,828.92 1193.69,825.3 1201.83,821.63 1209.98,817.91 1218.12,814.12 1226.27,810.28 1234.41,806.37 1242.56,802.4 1250.71,798.37 1258.85,794.26 1267,790.1 1275.14,785.86 1283.28,781.55 1291.43,777.17 1299.58,772.71 1307.72,768.17 1315.87,763.56 1324.01,758.86 1332.16,754.08 1340.3,749.22 1348.45,744.27 1356.59,739.22 1364.73,734.08 1372.88,728.85 1381.03,723.52 1389.17,718.09 1397.32,712.55 1405.46,706.91 1413.61,701.15 1421.75,695.28 1429.89,689.3 1438.04,683.19 1446.18,676.96 1454.33,670.6 1462.47,664.11 1470.62,657.48 1478.76,650.7 1486.91,643.79 1495.06,636.72 1503.2,629.5 1511.35,622.11 1519.49,614.56 1527.63,606.84 1535.78,598.94 1543.92,590.85 1552.07,582.58 1560.22,574.1 1568.36,565.42 1576.5,556.53 1584.65,547.41 1592.8,538.07 1600.94,528.49 1609.08,518.66 1617.23,508.58 1625.38,498.23 1633.52,487.59 1641.67,476.67 1649.81,465.45 1657.95,453.92 1666.1,442.05 1674.25,429.85 1682.39,417.28 1690.53,404.34 1698.68,391.02 1706.83,377.28 1714.97,363.12 1723.12,348.51 1731.26,333.43 1739.4,317.86 1747.55,301.77 1755.7,285.13 1763.84,267.93 1771.98,250.12 1780.13,231.68 1788.28,212.58 1796.42,192.76 1804.57,172.2 1812.71,150.86 1820.86,128.68 1829,105.61 1837.14,81.6" fill="none" stroke="#960000" stroke-width="7.8" stroke-linejoin="round"/>
<polygon points="362.9,1018.67 379.6,1030.62 373.22,1049.97 352.58,1049.97 346.2,1030.62" fill="#960000" stroke="#960000" stroke-width="2" stroke-linejoin="round"/>
<polygon points="525.8,993.15 542.5,1005.1 536.12,1024.45 515.48,1024.45 509.1,1005.1" fill="#960000" stroke="#960000" stroke-width="2" stroke-linejoin="round"/>
<polygon points="688.7,962.52 705.4,974.47 699.02,993.82 678.38,993.82 672,974.47" fill="#960000" stroke="#960000" stroke-width="2" stroke-linejoin="round"/>
<polygon points="851.6,924.98 868.3,936.93 861.92,956.27 841.28,956.27 834.9,936.93" fill="#960000" stroke="#960000" stroke-width="2" stroke-linejoin="round"/>
<polygon points="1014.5,877.75 1031.2,889.71 1024.82,909.05 1004.18,909.05 997.8,889.71" fill="#960000" stroke="#960000" stroke-width="2" stroke-linejoin="round"/>
<polygon points="1177.4,816.37 1194.1,828.33 1187.72,847.67 1167.08,847.67 1160.7,828.33" fill="#960000" stroke="#960000" stroke-width="2" stroke-linejoin="round"/>
<polygon points="1340.3,733.12 1357,745.07 1350.62,764.41 1329.98,764.41 1323.6,745.07" fill="#960000" stroke="#960000" stroke-width="2" stroke-linejoin="round"/>
<polygon points="1503.2,613.4 1519.9,625.35 1513.52,644.69 1492.88,644.69 1486.5,625.35" fill="#960000" stroke="#960000" stroke-width="2" stroke-linejoin="round"/>
<polygon points="1666.1,425.95 1682.8,437.91 1676.42,457.25 1655.78,457.25 1649.4,437.91" fill="#960000" stroke="#960000" stroke-width="2" stroke-linejoin="round"/>
<polygon points="1829,89.51 1845.7,101.46 1839.32,120.8 1818.68,120.8 1812.3,101.46" fill="#960000" stroke="#960000" stroke-width="2" stroke-linejoin="round"/>
</g></g>
<g id="legend">
<rect x="255.1" y="99" width="491.95" height="470.9" fill="#000"/>
<rect x="258.1" y="102.7" width="485.9" height="463.2" fill="#fff"/>
<rect x="303.8" y="159.1" width="104.4" height="7.8" rx="2.6" fill="#ff0000"/>
<text transform="translate(416.6 178.8) scale(1 1.07)">Range of 25[m]</text>
<rect x="303.8" y="213.24" width="104.4" height="7.8" rx="2.6" fill="#000000"/>
<ellipse cx="355.7" cy="217.54" rx="15.7" ry="16.6" fill="#000000"/>
<text transform="translate(416.6 232.94) scale(1 1.07)">4[m]</text>
<rect x="303.8" y="267.38" width="104.4" height="7.8" rx="2.6" fill="#0000ff"/>
<polygon points="355.5,251.48 374,283.08 337,283.08" fill="#0000ff" stroke="#0000ff" stroke-width="2.4" stroke-linejoin="round"/>
<text transform="translate(416.6 287.08) scale(1 1.07)">5[m]</text>
<rect x="303.8" y="321.52" width="104.4" height="7.8" rx="2.6" fill="#008080"/>
<polygon points="355.5,347.82 374,314.92 337,314.92" fill="#008080" stroke="#008080" stroke-width="2.4" stroke-linejoin="round"/>
<text transform="translate(416.6 341.22) scale(1 1.07)">6[m]</text>
<rect x="303.8" y="375.66" width="104.4" height="7.8" rx="2.6" fill="#ff00ff"/>
<polygon points="334.1,380.06 365.8,362.16 365.8,397.96" fill="#ff00ff" stroke="#ff00ff" stroke-width="2.4" stroke-linejoin="round"/>
<text transform="translate(416.6 395.36) scale(1 1.07)">7[m]</text>
<rect x="303.8" y="429.8" width="104.4" height="7.8" rx="2.6" fill="#808000"/>
<polygon points="375.9,434.2 346.2,415.8 346.2,452.6" fill="#808000" stroke="#808000" stroke-width="2.4" stroke-linejoin="round"/>
<text transform="translate(416.6 449.5) scale(1 1.07)">8[m]</text>
<rect x="303.8" y="483.94" width="104.4" height="7.8" rx="2.6" fill="#000080"/>
<polygon points="356,469.94 374.9,488.34 356,506.74 337.1,488.34" fill="#000080" stroke="#000080" stroke-width="2.4" stroke-linejoin="round"/>
<text transform="translate(416.6 503.64) scale(1 1.07)">9[m]</text>
<rect x="303.8" y="538.08" width="104.4" height="7.8" rx="2.6" fill="#960000"/>
<polygon points="355.5,525.88 372.2,537.83 365.82,557.18 345.18,557.18 338.8,537.83" fill="#960000" stroke="#960000" stroke-width="2" stroke-linejoin="round"/>
<text transform="translate(416.6 557.78) scale(1 1.07)">10[m]</text>
</g>
<g id="ticklabels">
<text transform="translate(199.4 1337) scale(1 1.07)" text-anchor="middle">10</text>
<text transform="translate(362.3 1337) scale(1 1.07)" text-anchor="middle">8</text>
<text transform="translate(525.2 1337) scale(1 1.07)" text-anchor="middle">6</text>
<text transform="translate(688.1 1337) scale(1 1.07)" text-anchor="middle">4</text>
<text transform="translate(851 1337) scale(1 1.07)" text-anchor="middle">2</text>
<text transform="translate(1013.9 1337) scale(1 1.07)" text-anchor="middle">0</text>
<text transform="translate(1176.2 1337) scale(1 1.07)" text-anchor="middle">-2</text>
<text transform="translate(1339.1 1337) scale(1 1.07)" text-anchor="middle">-4</text>
<text transform="translate(1502 1337) scale(1 1.07)" text-anchor="middle">-6</text>
<text transform="translate(1664.9 1337) scale(1 1.07)" text-anchor="middle">-8</text>
<text transform="translate(1827.8 1337) scale(1 1.07)" text-anchor="middle">-10</text>
<text transform="translate(173.5 1287.7) scale(1 1.07)" text-anchor="end">0</text>
<text transform="translate(173.5 1165.89) scale(1 1.07)" text-anchor="end">10</text>
<text transform="translate(173.5 1044.08) scale(1 1.07)" text-anchor="end">20</text>
<text transform="translate(173.5 922.27) scale(1 1.07)" text-anchor="end">30</text>
<text transform="translate(173.5 800.46) scale(1 1.07)" text-anchor="end">40</text>
<text transform="translate(173.5 678.65) scale(1 1.07)" text-anchor="end">50</text>
<text transform="translate(173.5 556.84) scale(1 1.07)" text-anchor="end">60</text>
<text transform="translate(173.5 435.03) scale(1 1.07)" text-anchor="end">70</text>
<text transform="translate(173.5 313.22) scale(1 1.07)" text-anchor="end">80</text>
<text transform="translate(173.5 191.41) scale(1 1.07)" text-anchor="end">90</text>
<text transform="translate(173.5 69.6) scale(1 1.07)" text-anchor="end">100</text>
</g>
<text transform="translate(1014.4 1415) scale(1 1.07)" text-anchor="middle" style="font-size:43.36px">Angle of HHM [deg]</text>
<text transform="translate(66.9 695.8) rotate(-90) scale(1 1.07)" text-anchor="middle" style="font-size:43.15px;word-spacing:2.6px">Sonar Operation Range [m]</text>
</svg>
</body></html>
